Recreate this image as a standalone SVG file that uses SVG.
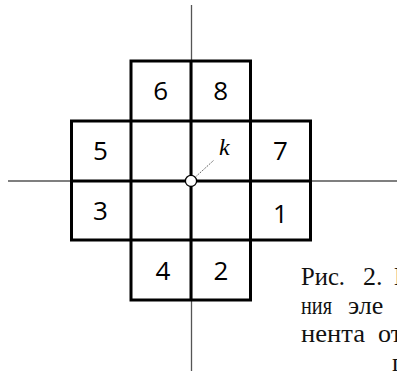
<svg xmlns="http://www.w3.org/2000/svg" width="397" height="372" viewBox="0 0 397 372">
<style>
.axis{stroke:#555;stroke-width:1.3;fill:none}
.grid{stroke:#000;stroke-width:3;fill:none;stroke-linecap:square}
.num{font-family:"Open Sans","Noto Sans",sans-serif;font-size:26px;fill:#000;text-anchor:middle}
.cap{font-family:"Liberation Serif",serif;font-size:26px;fill:#111}
</style>
<rect width="397" height="372" fill="#fff"/>
<g id="axes">
<line class="axis" x1="191.5" y1="5" x2="191.5" y2="371"/>
<line class="axis" x1="8" y1="181" x2="397" y2="181"/>
</g>
<g id="grid">
<path class="grid" d="M131,61 H250.5 M71.5,121 H310.5 M71.5,181 H310.5 M71.5,240 H310.5 M131,300 H250.5 M71.5,121 V240 M310.5,121 V240 M131,61 V300 M191,61 V300 M250.5,61 V300"/>
</g>
<g id="labels">
<text class="num" x="160.8" y="99.5">6</text>
<text class="num" x="220.8" y="99.5">8</text>
<text class="num" x="100.5" y="160">5</text>
<text class="num" x="280.5" y="160">7</text>
<text class="num" x="100.5" y="220">3</text>
<text class="num" x="280.5" y="222.5">1</text>
<text class="num" x="163" y="280">4</text>
<text class="num" x="221" y="280">2</text>
</g>
<g id="connectors">
<line x1="196.5" y1="176" x2="213.5" y2="160.5" stroke="#444" stroke-width="1" stroke-dasharray="1.2,1.2"/>
</g>
<g id="center">
<circle cx="191" cy="180.9" r="5.6" fill="#fff" stroke="#000" stroke-width="1.3"/>
<text x="219" y="155" font-family="Liberation Serif,serif" font-style="italic" font-size="24">k</text>
</g>
<g id="caption">
<text class="cap" x="301" y="285" textLength="44" lengthAdjust="spacingAndGlyphs">Рис.</text>
<text class="cap" x="363" y="285">2.</text>
<text class="cap" x="394" y="285">Н</text>
<text class="cap" x="301" y="313.5" textLength="31" lengthAdjust="spacingAndGlyphs">ния</text>
<text class="cap" x="348" y="313.5">эле</text>
<text class="cap" x="301" y="342" textLength="64" lengthAdjust="spacingAndGlyphs">нента</text>
<text class="cap" x="378" y="342">от</text>
<text class="cap" x="392" y="371">п</text>
</g>
</svg>
